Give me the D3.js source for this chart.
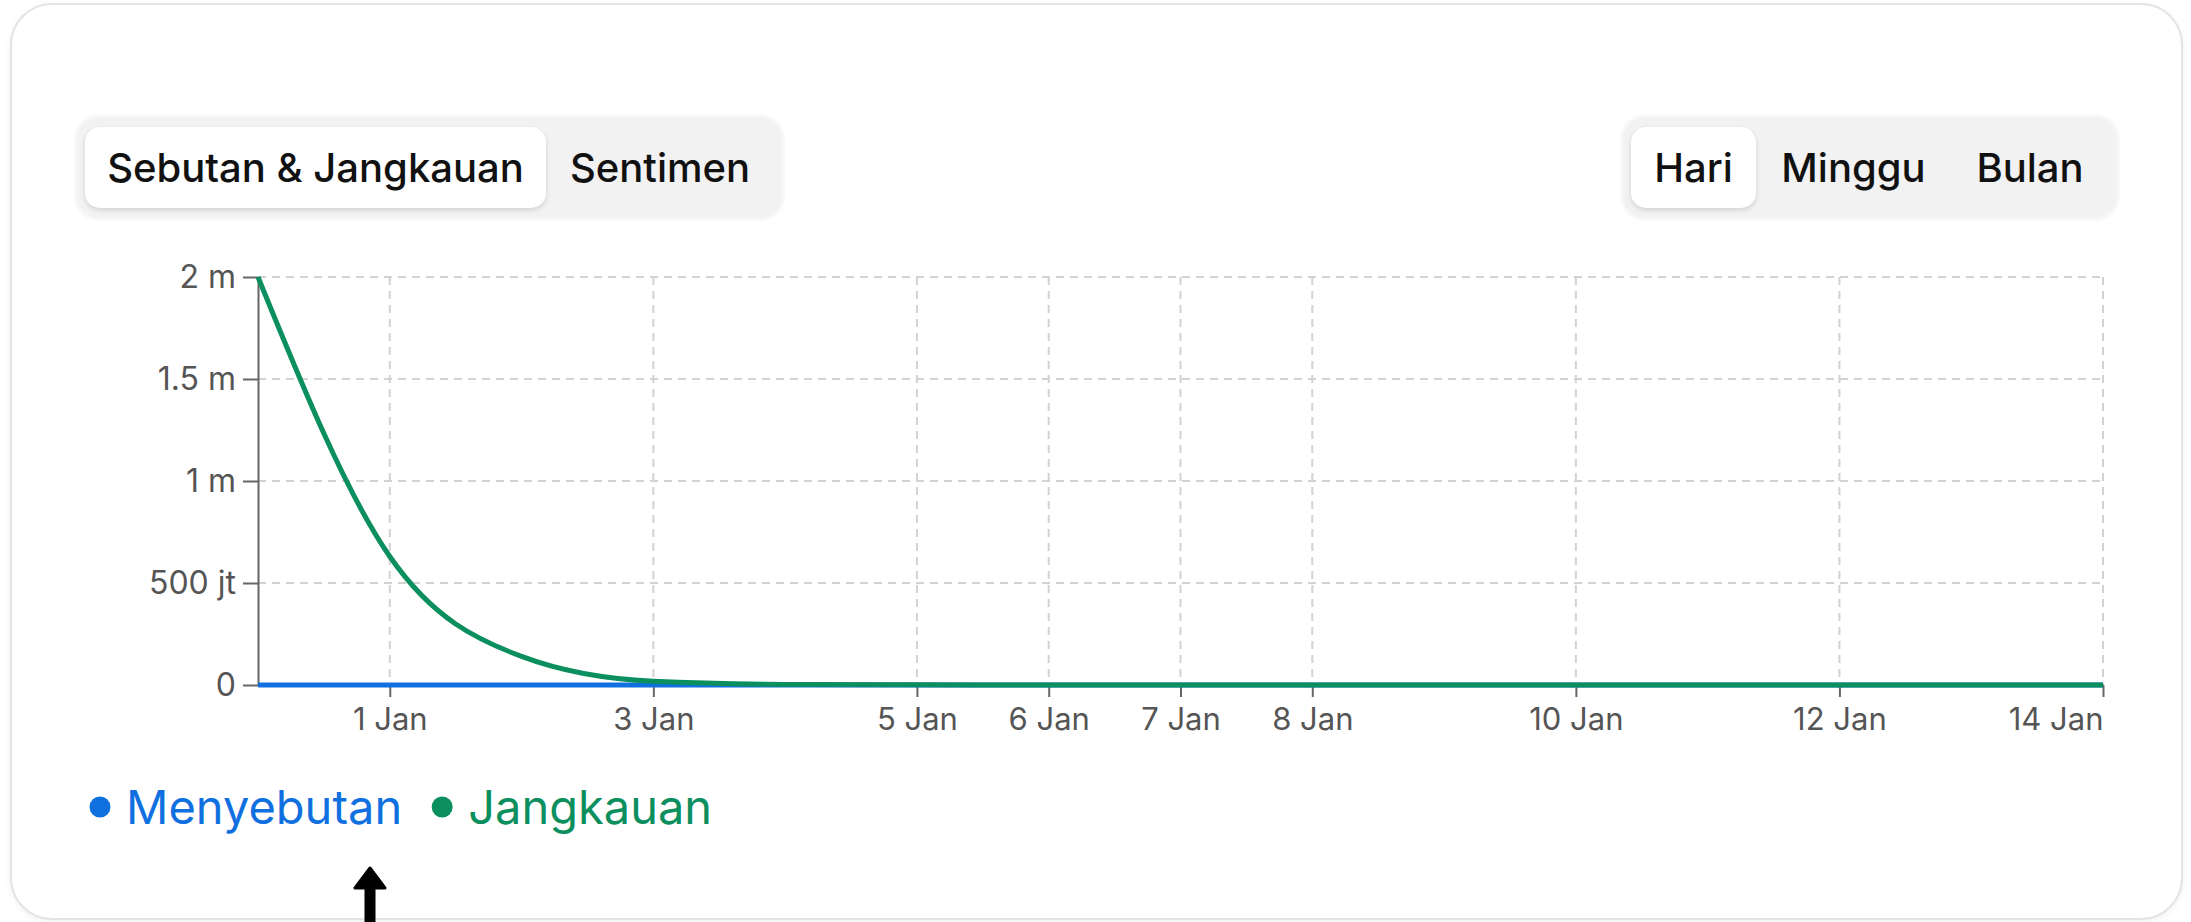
<!DOCTYPE html>
<html>
<head>
<meta charset="utf-8">
<script src="https://cdn.jsdelivr.net/npm/d3@7"></script>
<style>
  html, body { margin: 0; padding: 0; background: #fff; }
  body { width: 2191px; height: 922px; position: relative; overflow: hidden; font-family: Inter, "Noto Sans", sans-serif; }
  .card {
    position: absolute; left: 10px; top: 3px; width: 2169px; height: 913px;
    border: 2px solid #e4e4e4; border-radius: 42px; background: #fff;
    box-shadow: 0 2px 6px rgba(0,0,0,0.06);
  }
  .toggle {
    position: absolute; top: 117px; height: 101px; box-sizing: border-box;
    background: #f2f2f2; border-radius: 22px; padding: 10px 8px;
    box-shadow: 0 0 0 3px #f8f8f8;
    display: flex; align-items: center;
  }
  .toggle .btn {
    height: 81px; box-sizing: border-box; display: flex; align-items: center; justify-content: center;
    font-size: 40px; font-weight: 500; color: #111; border-radius: 15px;
  }
  .toggle .btn.on { background: #fff; box-shadow: 0 2px 5px rgba(0,0,0,0.14); }
  svg { position: absolute; left: 0; top: 0; }
  .grid line { stroke: #d2d2d2; stroke-width: 2; stroke-dasharray: 8 6; }
  .axis path, .axis line { stroke: #666; stroke-width: 2; }
  .axis text { fill: #555; font-family: Inter, sans-serif; }
</style>
</head>
<body>
<div class="card"></div>
<script>
// data
var dates = ["2023-12-31", "2024-01-01", "2024-01-02", "2024-01-03", "2024-01-04",
  "2024-01-05", "2024-01-06", "2024-01-07", "2024-01-08", "2024-01-09",
  "2024-01-10", "2024-01-11", "2024-01-12", "2024-01-13", "2024-01-14"];
var mentions = [38, 24, 12, 6, 3, 2, 1, 1, 0, 0, 0, 0, 0, 0, 0];
var reach = [2.0e9, 0.63e9, 0.14e9, 0.018e9, 0.003e9, 0.001e9, 0, 0, 0, 0, 0, 0, 0, 0, 0];
var xTickDates = ["2024-01-01", "2024-01-03", "2024-01-05", "2024-01-06", "2024-01-07",
  "2024-01-08", "2024-01-10", "2024-01-12", "2024-01-14"];
var yTicks = [0, 5e8, 1e9, 1.5e9, 2e9];
var monthNames = ["Jan", "Feb", "Mar", "Apr", "Mei", "Jun", "Jul", "Agu", "Sep", "Okt", "Nov", "Des"];
var seriesNames = ["Menyebutan", "Jangkauan"];
var seriesColors = ["#1170e0", "#0b8f5e"];
var leftTabs = ["Sebutan & Jangkauan", "Sentimen"];
var rightTabs = ["Hari", "Minggu", "Bulan"];

var parse = d3.utcParse("%Y-%m-%d");
var rows = dates.map(function(d, i) {
  return { date: parse(d), mentions: mentions[i], reach: reach[i] };
});

// toggles
function makeToggle(left, width, tabs, widths) {
  var t = d3.select("body").append("div")
    .attr("class", "toggle")
    .style("left", left + "px")
    .style("width", width + "px");
  t.selectAll("div.btn")
    .data(tabs)
    .enter()
    .append("div")
    .attr("class", function(d, i) { return i === 0 ? "btn on" : "btn"; })
    .style("width", function(d, i) { return widths[i] + "px"; })
    .text(function(d) { return d; });
}
makeToggle(77, 705, leftTabs, [461, 228]);
makeToggle(1623, 494, rightTabs, [125, 195, 158]);

var svg = d3.select("body").append("svg")
  .attr("width", 2191)
  .attr("height", 922);

var x = d3.scaleUtc()
  .domain([parse(dates[0]), parse(dates[dates.length - 1])])
  .range([258, 2103]);
var y = d3.scaleLinear()
  .domain([0, 2e9])
  .range([685, 277]);

var xTicks = xTickDates.map(parse);

function fmtY(v) {
  if (v === 0) return "0";
  if (v >= 1e9) return (v / 1e9) + " m";
  return (v / 1e6) + " jt";
}
function fmtX(d) {
  return d.getUTCDate() + " " + monthNames[d.getUTCMonth()];
}

// grid
var grid = svg.append("g").attr("class", "grid");
grid.selectAll("line.h")
  .data(yTicks.filter(function(v) { return v > 0; }))
  .enter()
  .append("line")
  .attr("x1", x.range()[0]).attr("x2", x.range()[1])
  .attr("y1", function(d) { return y(d); })
  .attr("y2", function(d) { return y(d); });
grid.selectAll("line.v")
  .data(xTicks)
  .enter()
  .append("line")
  .attr("x1", function(d) { return x(d); })
  .attr("x2", function(d) { return x(d); })
  .attr("y1", y(2e9)).attr("y2", y(0));

// axes
var gx = svg.append("g")
  .attr("class", "axis")
  .attr("transform", "translate(0," + y(0) + ")")
  .call(d3.axisBottom(x).tickValues(xTicks).tickFormat(fmtX).tickSize(12).tickPadding(11).tickSizeOuter(0));
gx.selectAll("text").style("font-size", "31px");
gx.selectAll(".tick:last-of-type text").attr("text-anchor", "end").attr("dx", "0");

var gy = svg.append("g")
  .attr("class", "axis")
  .attr("transform", "translate(" + x.range()[0] + ",0)")
  .call(d3.axisLeft(y).tickValues(yTicks).tickFormat(fmtY).tickSize(15).tickPadding(7).tickSizeOuter(0));
gy.selectAll("text").style("font-size", "32px");

// lines
var keys = ["mentions", "reach"];
keys.forEach(function(k, i) {
  var line = d3.line()
    .x(function(d) { return x(d.date); })
    .y(function(d) { return y(d[k]); })
    .curve(d3.curveMonotoneX);
  svg.append("path")
    .datum(rows)
    .attr("fill", "none")
    .attr("stroke", seriesColors[i])
    .attr("stroke-width", 5)
    .attr("d", line);
});

// legend
var legend = svg.append("g").attr("transform", "translate(100,807)");
var lx = 0;
seriesNames.forEach(function(name, i) {
  var g = legend.append("g").attr("transform", "translate(" + lx + ",0)");
  g.append("circle").attr("r", 10.5).attr("fill", seriesColors[i]);
  var t = g.append("text")
    .attr("x", 26)
    .attr("dy", "0.36em")
    .attr("fill", seriesColors[i])
    .style("font-family", "Inter, sans-serif")
    .style("font-size", "47px")
    .text(name);
  lx += 26 + t.node().getComputedTextLength() + 40;
});

// arrow marker at bottom
svg.append("path")
  .attr("d", "M370,868 L355,888 L366,888 L366,922 L374,922 L374,888 L385,888 Z")
  .attr("fill", "#000")
  .attr("stroke", "#000")
  .attr("stroke-width", 3)
  .attr("stroke-linejoin", "round");
</script>
</body>
</html>
